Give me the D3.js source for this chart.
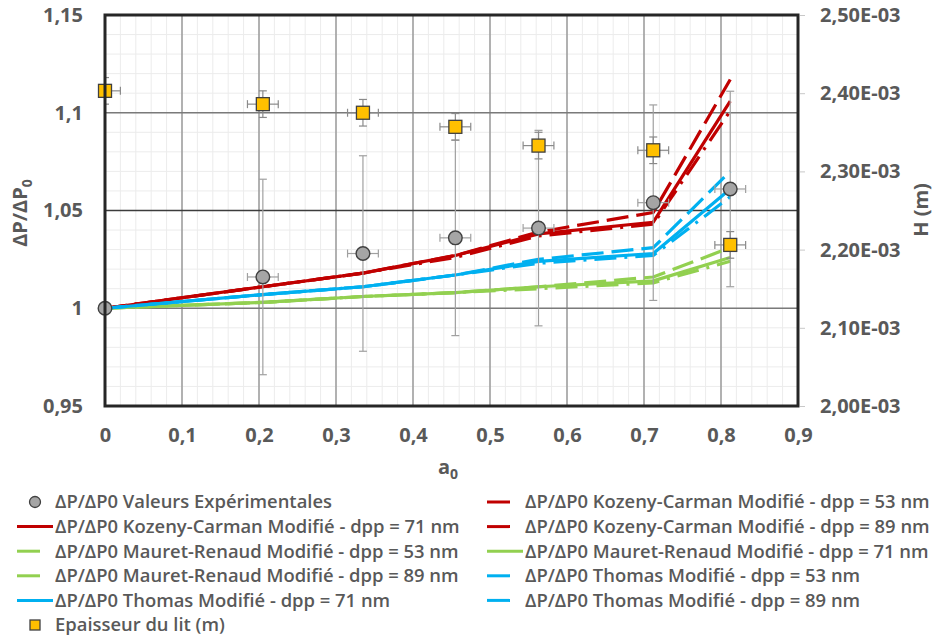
<!DOCTYPE html>
<html><head><meta charset="utf-8">
<script src="https://cdn.jsdelivr.net/npm/d3@7"></script>
<style>
body{margin:0;background:#fff}
svg{display:block}
text{font-family:'Open Sans',sans-serif}
</style>
</head><body>
<svg id="c" width="941" height="639"></svg>
<script>
// ---------- data ----------
const aValues   = [0, 0.205, 0.335, 0.455, 0.563, 0.712, 0.812];
const expValues = [1.000, 1.016, 1.028, 1.036, 1.041, 1.054, 1.061];
const expErrY   = [0, 0.05, 0.05, 0.05, 0.05, 0.05, 0.05];
const expErrX   = [0, 0.02, 0.02, 0.02, 0.02, 0.02, 0.02];

const kc53 = [1.000, 1.011, 1.018, 1.027, 1.039, 1.049, 1.117];
const kc71 = [1.000, 1.011, 1.018, 1.027, 1.038, 1.044, 1.106];
const kc89 = [1.000, 1.011, 1.018, 1.026, 1.037, 1.043, 1.101];
const mr53 = [1.000, 1.003, 1.006, 1.008, 1.011, 1.016, 1.031];
const mr71 = [1.000, 1.003, 1.006, 1.008, 1.011, 1.014, 1.026];
const mr89 = [1.000, 1.003, 1.006, 1.008, 1.010, 1.013, 1.024];
const th53 = [1.000, 1.007, 1.011, 1.017, 1.025, 1.031, 1.070];
const th71 = [1.000, 1.007, 1.011, 1.017, 1.024, 1.028, 1.061];
const th89 = [1.000, 1.007, 1.011, 1.017, 1.023, 1.027, 1.057];

const hValues = [2.403e-3, 2.386e-3, 2.375e-3, 2.357e-3, 2.333e-3, 2.327e-3, 2.206e-3];
const hErrY   = [0.017e-3, 0.017e-3, 0.017e-3, 0.017e-3, 0.017e-3, 0.017e-3, 0.017e-3];
const hErrX   = [0.02, 0.02, 0.02, 0.02, 0.02, 0.02, 0.02];

const xTicks = [0, 0.1, 0.2, 0.3, 0.4, 0.5, 0.6, 0.7, 0.8, 0.9];
const xTickLabels = ["0","0,1","0,2","0,3","0,4","0,5","0,6","0,7","0,8","0,9"];
const yTicks = [0.95, 1, 1.05, 1.1, 1.15];
const yTickLabels = ["0,95","1","1,05","1,1","1,15"];
const hTicks = [2.0e-3, 2.1e-3, 2.2e-3, 2.3e-3, 2.4e-3, 2.5e-3];
const hTickLabels = ["2,00E-03","2,10E-03","2,20E-03","2,30E-03","2,40E-03","2,50E-03"];

const seriesNames = [
  "ΔP/ΔP0 Kozeny-Carman Modifié - dpp = 53 nm",
  "ΔP/ΔP0 Kozeny-Carman Modifié - dpp = 71 nm",
  "ΔP/ΔP0 Kozeny-Carman Modifié - dpp = 89 nm",
  "ΔP/ΔP0 Mauret-Renaud Modifié - dpp = 53 nm",
  "ΔP/ΔP0 Mauret-Renaud Modifié - dpp = 71 nm",
  "ΔP/ΔP0 Mauret-Renaud Modifié - dpp = 89 nm",
  "ΔP/ΔP0 Thomas Modifié - dpp = 53 nm",
  "ΔP/ΔP0 Thomas Modifié - dpp = 71 nm",
  "ΔP/ΔP0 Thomas Modifié - dpp = 89 nm"
];
const seriesValues = [kc53, kc71, kc89, mr53, mr71, mr89, th53, th71, th89];
const seriesColors = ["#C00000","#C00000","#C00000","#92D050","#92D050","#92D050","#00B0F0","#00B0F0","#00B0F0"];
const seriesDash   = ["22,8", null, "22,8,3,8", "22,8", null, "22,8,3,8", "22,8", null, "22,8,3,8"];
const expName = "ΔP/ΔP0 Valeurs Expérimentales";
const hName = "Epaisseur du lit (m)";

// ---------- layout ----------
const svg = d3.select("#c");
const L = 105, R = 798, T = 15, B = 406;
const x = d3.scaleLinear().domain([0, 0.9]).range([L, R]);
const y = d3.scaleLinear().domain([0.95, 1.15]).range([B, T]);
const yH = d3.scaleLinear().domain([2.0e-3, 2.5e-3]).range([B, T]);

svg.append("defs").append("clipPath").attr("id","plot")
  .append("rect").attr("x",L).attr("y",T).attr("width",R-L).attr("height",B-T);

// minor grid
const g = svg.append("g");
g.selectAll("line.mx").data(d3.range(0, 0.9001, 0.02)).join("line")
  .attr("x1", d=>x(d)).attr("x2", d=>x(d)).attr("y1",T).attr("y2",B)
  .attr("stroke","#ececec").attr("stroke-width",1);
g.selectAll("line.my").data(d3.range(0.95, 1.1501, 0.01)).join("line")
  .attr("y1", d=>y(d)).attr("y2", d=>y(d)).attr("x1",L).attr("x2",R)
  .attr("stroke","#ececec").attr("stroke-width",1);
// major grid
g.selectAll("line.vx").data(xTicks.slice(1, -1)).join("line")
  .attr("x1", d=>x(d)).attr("x2", d=>x(d)).attr("y1",T).attr("y2",B)
  .attr("stroke","#9a9a9a").attr("stroke-width",1.5);
g.selectAll("line.hy").data(yTicks.slice(1, -1)).join("line")
  .attr("y1", d=>y(d)).attr("y2", d=>y(d)).attr("x1",L).attr("x2",R)
  .attr("stroke", d => d === 1.05 ? "#3c3c3c" : "#7a7a7a").attr("stroke-width",1.4);

// model lines
const plot = svg.append("g").attr("clip-path","url(#plot)");
const line = d3.line().x(d=>x(d[0])).y(d=>y(d[1]));
seriesValues.forEach((vals, i) => {
  plot.append("path")
    .attr("d", line(aValues.map((a, j) => [a, vals[j]])))
    .attr("fill","none").attr("stroke", seriesColors[i]).attr("stroke-width",3.2)
    .attr("stroke-linejoin","round")
    .attr("stroke-dasharray", seriesDash[i]);
});

// error bars helper
function errBars(gr, xs, ys, ex, ey, ysc, col) {
  xs.forEach((a, i) => {
    const cx = x(a), cy = ysc(ys[i]);
    if (ey[i] > 0) {
      const y1 = ysc(ys[i] + ey[i]), y2 = ysc(ys[i] - ey[i]);
      gr.append("line").attr("x1",cx).attr("x2",cx).attr("y1",y1).attr("y2",y2).attr("stroke",col).attr("stroke-width",1.2);
      [y1, y2].forEach(yy => gr.append("line").attr("x1",cx-4).attr("x2",cx+4).attr("y1",yy).attr("y2",yy).attr("stroke",col).attr("stroke-width",1.2));
    }
    if (ex[i] > 0) {
      const x1 = x(a - ex[i]), x2 = x(a + ex[i]);
      gr.append("line").attr("x1",x1).attr("x2",x2).attr("y1",cy).attr("y2",cy).attr("stroke",col).attr("stroke-width",1.2);
      [x1, x2].forEach(xx => gr.append("line").attr("x1",xx).attr("x2",xx).attr("y1",cy-4).attr("y2",cy+4).attr("stroke",col).attr("stroke-width",1.2));
    }
  });
}
const eg = svg.append("g").attr("clip-path","url(#plot)");
errBars(eg, aValues, expValues, expErrX, expErrY, y, "#a0a0a0");
errBars(eg, aValues, hValues, hErrX, hErrY, yH, "#8a8a8a");

// experimental circles
svg.append("g").selectAll("circle").data(aValues).join("circle")
  .attr("cx", d=>x(d)).attr("cy", (d,i)=>y(expValues[i])).attr("r",6.8)
  .attr("fill","#A5A5A5").attr("stroke","#404040").attr("stroke-width",1.4);

// bed thickness squares
svg.append("g").selectAll("rect").data(aValues).join("rect")
  .attr("x", d=>x(d)-6.5).attr("y", (d,i)=>yH(hValues[i])-6.5).attr("width",13).attr("height",13)
  .attr("fill","#FFC000").attr("stroke","#404040").attr("stroke-width",1.3);

// border
svg.append("rect").attr("x",L).attr("y",T).attr("width",R-L).attr("height",B-T)
  .attr("fill","none").attr("stroke","#262626").attr("stroke-width",3);

// axes
const tickStyle = sel => {
  sel.select(".domain").remove();
  sel.selectAll(".tick line").remove();
  sel.selectAll("text").attr("fill","#595959").attr("font-size",20).attr("font-weight",700)
    .attr("font-family","'Open Sans',sans-serif");
};
svg.append("g").attr("transform",`translate(0,${B})`)
  .call(d3.axisBottom(x).tickValues(xTicks).tickSize(0).tickPadding(22).tickFormat((d,i)=>xTickLabels[i]))
  .call(tickStyle);
svg.append("g").attr("transform",`translate(${L},0)`)
  .call(d3.axisLeft(y).tickValues(yTicks).tickSize(0).tickPadding(22).tickFormat((d,i)=>yTickLabels[i]))
  .call(tickStyle);
svg.append("g").attr("transform",`translate(${R},0)`)
  .call(d3.axisRight(yH).tickValues(hTicks).tickSize(7).tickPadding(15).tickFormat((d,i)=>hTickLabels[i]))
  .call(sel => {
    sel.select(".domain").remove();
    sel.selectAll(".tick line").attr("stroke","#c8c8c8").attr("x1",2);
    sel.selectAll("text").attr("fill","#595959").attr("font-size",20).attr("font-weight",700)
      .attr("font-family","'Open Sans',sans-serif");
  });

// axis titles
const lt = svg.append("text").attr("transform","translate(27,213) rotate(-90)")
  .attr("text-anchor","middle").attr("fill","#595959").attr("font-size",20).attr("font-weight",700);
lt.append("tspan").text("ΔP/ΔP");
lt.append("tspan").text("0").attr("font-size",14).attr("dy",5);
svg.append("text").attr("transform","translate(928,210) rotate(-90)")
  .attr("text-anchor","middle").attr("fill","#595959").attr("font-size",20).attr("font-weight",700)
  .text("H (m)");
const bt = svg.append("text").attr("x",448).attr("y",474)
  .attr("text-anchor","middle").attr("fill","#595959").attr("font-size",20).attr("font-weight",700);
bt.append("tspan").text("a");
bt.append("tspan").text("0").attr("font-size",14).attr("dy",5);

// legend
const legendItems = [{type:"circle", name: expName}];
seriesNames.forEach((n, i) => legendItems.push({type:"line", name:n, color:seriesColors[i], dash:seriesDash[i]}));
legendItems.push({type:"square", name: hName});
const colX = [17, 487], rowY0 = 502, rowH = 24.6;
const lg = svg.append("g");
legendItems.forEach((it, i) => {
  const mx = colX[i % 2], my = rowY0 + Math.floor(i / 2) * rowH;
  if (it.type === "circle") {
    lg.append("circle").attr("cx",mx+18).attr("cy",my).attr("r",5.5)
      .attr("fill","#A5A5A5").attr("stroke","#404040").attr("stroke-width",1.3);
  } else if (it.type === "square") {
    lg.append("rect").attr("x",mx+13).attr("y",my-5).attr("width",10).attr("height",10)
      .attr("fill","#FFC000").attr("stroke","#404040").attr("stroke-width",1.3);
  } else {
    lg.append("line").attr("x1",mx).attr("x2", it.dash ? mx+23 : mx+36).attr("y1",my).attr("y2",my)
      .attr("stroke",it.color).attr("stroke-width",3);
  }
  lg.append("text").attr("x",mx+38).attr("y",my).attr("dy","0.35em")
    .attr("fill","#595959").attr("font-size",18.4).attr("font-weight",600).text(it.name);
});
</script>
</body></html>
